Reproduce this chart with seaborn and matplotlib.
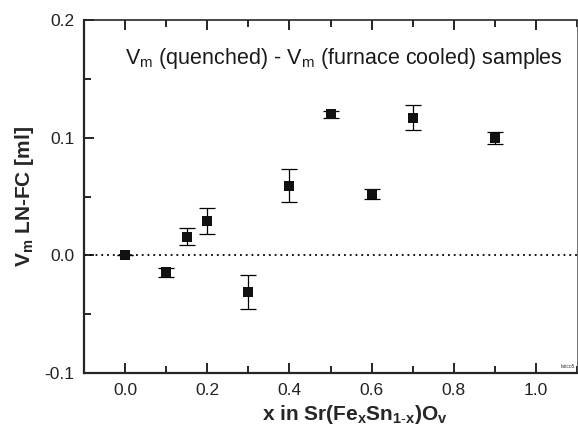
import matplotlib
matplotlib.use("Agg")
import matplotlib.pyplot as plt
import seaborn as sns
import pandas as pd
from matplotlib.ticker import MultipleLocator

x_vals = [0.0, 0.1, 0.15, 0.2, 0.3, 0.4, 0.5, 0.6, 0.7, 0.9]
vm_diff = [0.0, -0.0145, 0.016, 0.029, -0.031, 0.059, 0.120, 0.052, 0.117, 0.100]
vm_err = [0.0, 0.004, 0.007, 0.011, 0.0145, 0.014, 0.003, 0.004, 0.0105, 0.005]

sns.set_theme(style="ticks")
plt.rcParams['font.family'] = ['Liberation Sans', 'DejaVu Sans']
plt.rcParams['mathtext.fontset'] = 'custom'
plt.rcParams['mathtext.rm'] = 'Liberation Sans'
plt.rcParams['mathtext.it'] = 'Liberation Sans'
plt.rcParams['mathtext.bf'] = 'Liberation Sans:bold'

df = pd.DataFrame({"x": x_vals, "y": vm_diff, "err": vm_err})

fig = plt.figure(figsize=(5.78, 4.40), dpi=100)
ax = fig.add_axes([84/578, 1-373/440, 493/578, 353/440])

ax.axhline(0, color='black', linestyle=(0, (1, 2.2)), linewidth=1.3, zorder=1)
ax.errorbar(df["x"], df["y"], yerr=df["err"], fmt='none', ecolor='black',
            elinewidth=0.9, capsize=6, capthick=0.9, zorder=2)
sns.scatterplot(data=df, x="x", y="y", marker='s', s=55, color='#111111',
                edgecolor='#111111', linewidth=0, ax=ax, zorder=3)

ax.set_xlim(-0.1, 1.1)
ax.set_ylim(-0.1, 0.2)
ax.xaxis.set_minor_locator(MultipleLocator(0.1))
ax.yaxis.set_minor_locator(MultipleLocator(0.05))
ax.set_xticks([0.0, 0.2, 0.4, 0.6, 0.8, 1.0])
ax.set_xticklabels(['0.0', '0.2', '0.4', '0.6', '0.8', '1.0'])
ax.set_yticks([-0.1, 0.0, 0.1, 0.2])
ax.set_yticklabels(['-0.1', '0.0', '0.1', '0.2'])
ax.tick_params(which='both', direction='in', top=True, right=False,
               labelsize=12.5, color='black', labelcolor='#222222', pad=7)
ax.tick_params(which='major', length=7, width=1.2)
ax.tick_params(which='minor', length=5, width=1.2)

for side in ['left', 'bottom']:
    ax.spines[side].set_linewidth(1.6)
ax.spines['top'].set_linewidth(1.2)
ax.spines['right'].set_linewidth(0.6)
ax.spines['right'].set_color('#555555')
for s in ax.spines.values():
    s.set_visible(True)

ax.set_xlabel(r'x in Sr(Fe$_\mathbf{x}$Sn$_\mathbf{1\text{-}x}$)O$_\mathbf{v}$',
              fontsize=15, fontweight='bold')
ax.xaxis.set_label_coords(0.55, -0.085)
ax.set_ylabel(r'V$_\mathbf{m}$ LN-FC [ml]', fontsize=15, fontweight='bold', labelpad=6)

ax.text(0.972, 0.892, r'V$_\mathrm{m}$ (quenched) - V$_\mathrm{m}$ (furnace cooled) samples',
        transform=ax.transAxes, ha='right', va='center', fontsize=15.5, color='#1a1a1a')
ax.text(0.995, 0.012, 'latico5', transform=ax.transAxes, ha='right', va='bottom',
        fontsize=3.5, color='#333333')

fig.savefig('out.png', dpi=100)
